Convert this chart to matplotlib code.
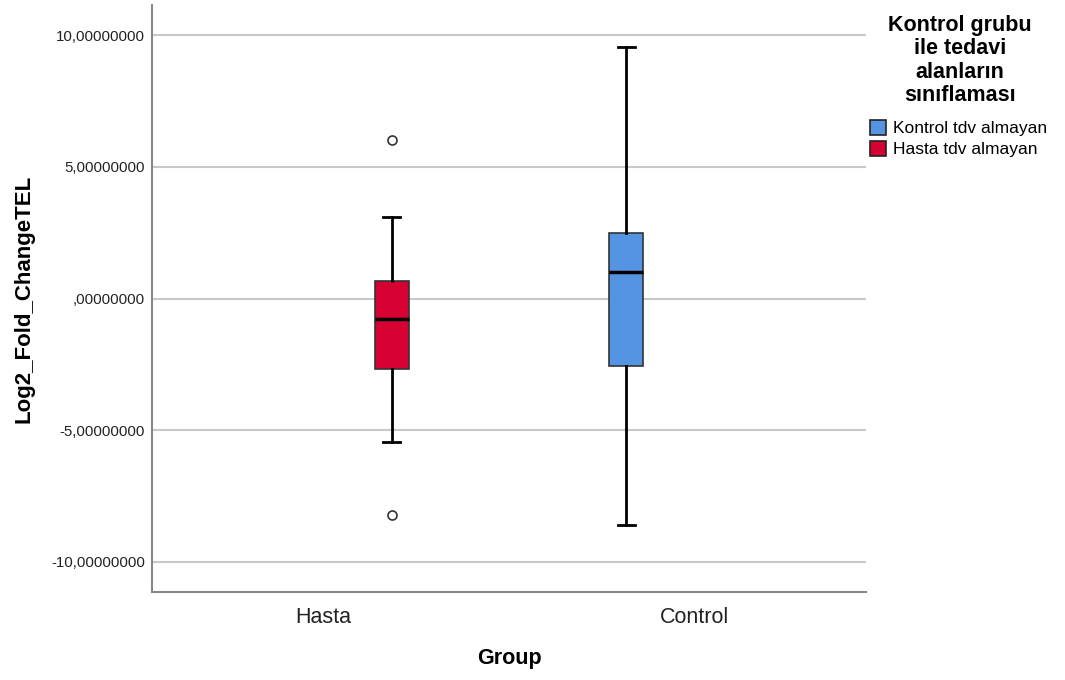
import matplotlib
matplotlib.use("Agg")
import matplotlib.pyplot as plt
from matplotlib.patches import Patch

plt.rcParams['font.family'] = ['Liberation Sans', 'DejaVu Sans']

# groups on the x axis and the two classes drawn inside them
groups = ["Hasta", "Control"]
classes = ["Kontrol tdv almayan", "Hasta tdv almayan"]
class_colors = ["#5594E2", "#D70032"]

# five-number summaries plus outliers (Log2 fold change)
hasta_stats = dict(label="Hasta tdv almayan", whislo=-5.46, q1=-2.69, med=-0.76,
                   q3=0.65, whishi=3.11, fliers=[6.0, -8.2])
control_stats = dict(label="Kontrol tdv almayan", whislo=-8.58, q1=-2.58, med=1.02,
                     q3=2.50, whishi=9.56, fliers=[])

yticks = [10, 5, 0, -5, -10]
ytick_labels = ["10,00000000", "5,00000000", ",00000000", "-5,00000000", "-10,00000000"]

fig = plt.figure(figsize=(10.65, 6.8), dpi=100)
ax = fig.add_axes([152 / 1065, 88 / 680, 714 / 1065, 587 / 680])

offset = 0.185
width = 0.092
flierprops = dict(marker="o", markersize=6.5, markerfacecolor="white",
                  markeredgecolor="#333333", markeredgewidth=1.2, linestyle="none")

# Hasta group shows only the red class (right slot), Control only the blue one (left slot)
for stats, pos, color in [(hasta_stats, 0 + offset, class_colors[1]),
                          (control_stats, 1 - offset, class_colors[0])]:
    ax.bxp([stats], positions=[pos], widths=width, capwidths=width / 2,
           patch_artist=True, showfliers=True,
           boxprops=dict(facecolor=color, edgecolor="#333333", linewidth=1.2),
           medianprops=dict(color="black", linewidth=2.5),
           whiskerprops=dict(color="black", linewidth=2),
           capprops=dict(color="black", linewidth=2),
           flierprops=flierprops, zorder=3)

ax.set_xlim(-0.46, 1.46)
ax.set_ylim(-11.14, 11.14)
ax.set_xticks([0, 1])
ax.set_xticklabels(groups, fontsize=15.5, color="#222222")
ax.set_yticks(yticks)
ax.set_yticklabels(ytick_labels, fontsize=10.8, color="#222222")
ax.tick_params(axis="both", length=0)
ax.tick_params(axis="x", pad=11)
ax.tick_params(axis="y", pad=5)

ax.yaxis.grid(True, color="#c8c8c8", linewidth=1.5, zorder=0)
ax.set_axisbelow(True)

for side in ["top", "right"]:
    ax.spines[side].set_visible(False)
for side in ["left", "bottom"]:
    ax.spines[side].set_color("#888888")
    ax.spines[side].set_linewidth(1.5)

ax.set_ylabel("Log2_Fold_ChangeTEL", fontsize=16, fontweight="bold")
ax.set_xlabel("Group", fontsize=15.5, fontweight="bold")
ax.yaxis.set_label_coords(-0.165, 0.5)
ax.xaxis.set_label_coords(0.501, -0.0954)

# legend: centred bold title, then the colour swatches below it
fig.text(960 / 1065, 1 - 60.5 / 680,
         "Kontrol grubu\nile tedavi\nalanların\nsınıflaması",
         ha="center", va="center", multialignment="center",
         fontsize=15.5, fontweight="bold", linespacing=1.14)
handles = [Patch(facecolor=c, edgecolor="#222222", linewidth=1.2) for c in class_colors]
fig.legend(handles, classes, loc="upper left",
           bbox_to_anchor=(870 / 1065, 1 - 120 / 680),
           fontsize=12.5, frameon=False, handlelength=0.95, handleheight=0.95,
           handletextpad=0.35, labelspacing=0.25, borderpad=0, borderaxespad=0)

fig.savefig("out.png", dpi=100, facecolor="white")
